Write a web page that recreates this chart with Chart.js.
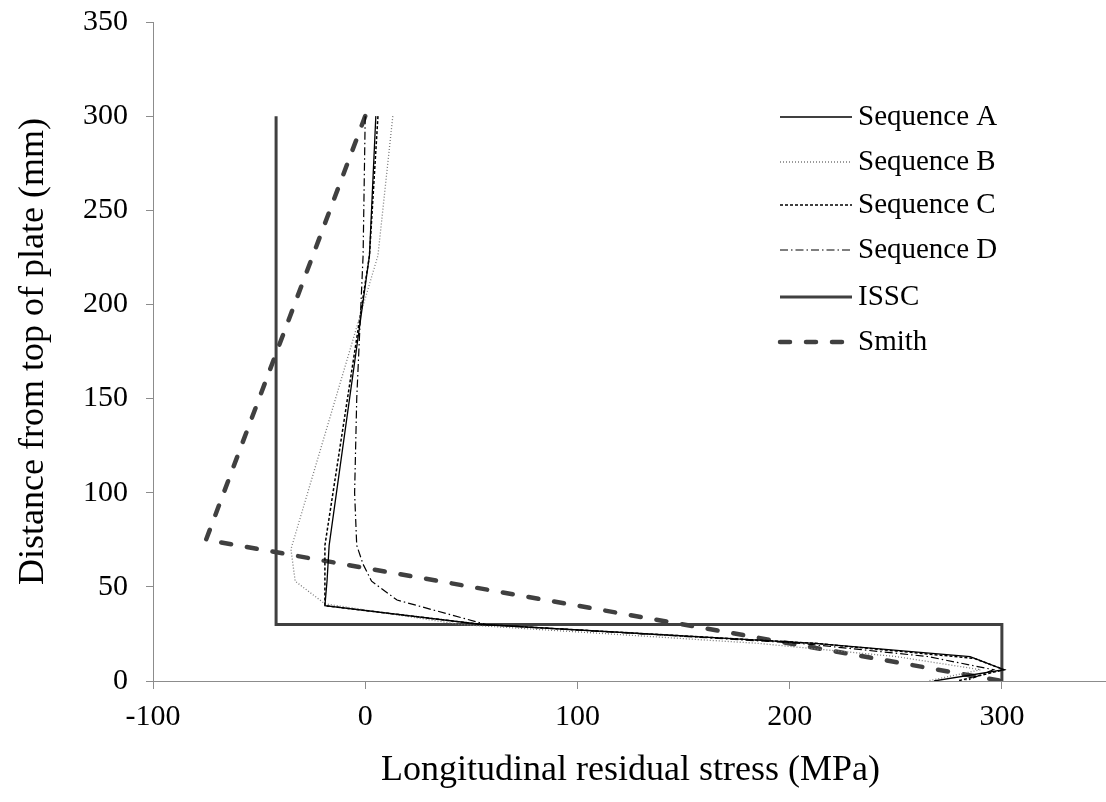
<!DOCTYPE html>
<html>
<head>
<meta charset="utf-8">
<script src="https://cdn.jsdelivr.net/npm/chart.js@4"></script>
<style>
  body { margin: 0; background: #fff; overflow: hidden; }
  canvas { display: block; }
</style>
</head>
<body>
<canvas id="stressChart" width="1110" height="802"></canvas>
<script>
/* residual stress profiles, [stress MPa, depth mm] */
const seqA = [[5,300],[2,226],[-17,72],[-18,53],[-19,40],[55,30],[212,20],[285,13],[301,6],[268,0]];
const seqB = [[13,300],[6,226],[-35,70],[-33,53],[-19,41],[45,30],[185,20],[250,13],[290,6],[265,0]];
const seqC = [[6,300],[2,226],[-19,72],[-19,53],[-19,40],[55,30],[212,20],[287,12],[301,6],[279,0]];
const seqD = [[0,300],[-1,226],[-4,150],[-5,100],[-4,72],[-1,62],[3,53],[15,43],[57,30],[205,20],[265,13],[296,6],[283,0]];
const issc = [[-42,300],[-42,30],[300,30],[300,0]];
const smith = [[0,300],[-75,75],[300,0]];

const seriesNames = ['Sequence A', 'Sequence B', 'Sequence C', 'Sequence D', 'ISSC', 'Smith'];
const xTicks = [-100, 0, 100, 200, 300];

const serif = 'Liberation Serif';

function toPoints(arr) {
    return arr.map(p => ({ x: p[0], y: p[1] }));
}

// legend sits inside the plot area, excel style
const insideLegend = {
    id: 'insideLegend',
    afterDraw(chart) {
        const ctx = chart.ctx;
        const rowY = [117, 162, 205, 250, 297, 342];
        chart.data.datasets.forEach((ds, i) => {
            const y = rowY[i];
            ctx.save();
            ctx.strokeStyle = ds.borderColor;
            ctx.lineWidth = ds.borderWidth;
            ctx.setLineDash(ds.borderDash || []);
            ctx.lineCap = ds.borderCapStyle || 'butt';
            ctx.beginPath();
            ctx.moveTo(780, y);
            ctx.lineTo(852, y);
            ctx.stroke();
            ctx.restore();
            ctx.save();
            ctx.fillStyle = '#000';
            ctx.font = '29px ' + serif;
            ctx.textBaseline = 'middle';
            ctx.fillText(ds.label, 858, y);
            ctx.restore();
        });
    }
};

function lineSet(label, arr, color, width, dash, cap) {
    return {
        label: label,
        data: toPoints(arr),
        showLine: true,
        borderColor: color,
        backgroundColor: color,
        borderWidth: width,
        borderDash: dash,
        borderCapStyle: cap || 'butt',
        pointRadius: 0,
        tension: 0
    };
}

const ctx = document.getElementById('stressChart').getContext('2d');
new Chart(ctx, {
    type: 'scatter',
    data: {
        datasets: [
            lineSet(seriesNames[0], seqA, '#000000', 1.3, []),
            lineSet(seriesNames[1], seqB, '#7a7a7a', 1.3, [1, 2]),
            lineSet(seriesNames[2], seqC, '#000000', 1.5, [3, 2]),
            lineSet(seriesNames[3], seqD, '#000000', 1.2, [8, 3, 1.5, 3]),
            lineSet(seriesNames[4], issc, '#404040', 3, []),
            lineSet(seriesNames[5], smith, '#404040', 4.5, [10, 16], 'round')
        ]
    },
    options: {
        responsive: false,
        animation: false,
        devicePixelRatio: 1,
        layout: { padding: { left: 0, top: 22, right: 2, bottom: 0 } },
        plugins: {
            legend: { display: false },
            tooltip: { enabled: false }
        },
        scales: {
            x: {
                type: 'linear',
                min: -100,
                max: 350,
                afterBuildTicks: scale => { scale.ticks = xTicks.map(v => ({ value: v })); },
                afterFit: scale => {
                    scale.height = 121;
                    scale.paddingLeft = 0;
                    scale.paddingRight = 0;
                },
                ticks: {
                    color: '#000',
                    font: { family: serif, size: 30 },
                    padding: 10
                },
                grid: { drawOnChartArea: false, tickLength: 8, color: '#8c8c8c' },
                border: { color: '#8c8c8c', width: 1 },
                title: {
                    display: true,
                    text: 'Longitudinal residual stress (MPa)',
                    color: '#000',
                    font: { family: serif, size: 36 },
                    padding: { top: 0, bottom: 10 }
                }
            },
            y: {
                type: 'linear',
                min: 0,
                max: 350,
                afterFit: scale => {
                    scale.width = 153;
                    scale.paddingTop = 0;
                    scale.paddingBottom = 0;
                },
                ticks: {
                    stepSize: 50,
                    color: '#000',
                    font: { family: serif, size: 30 },
                    padding: 18
                },
                grid: { drawOnChartArea: false, tickLength: 7, color: '#8c8c8c' },
                border: { color: '#8c8c8c', width: 1 },
                title: {
                    display: true,
                    text: 'Distance from top of plate (mm)',
                    color: '#000',
                    font: { family: serif, size: 36 },
                    padding: { top: 12, bottom: 0 }
                }
            }
        }
    },
    plugins: [insideLegend]
});
</script>
</body>
</html>
